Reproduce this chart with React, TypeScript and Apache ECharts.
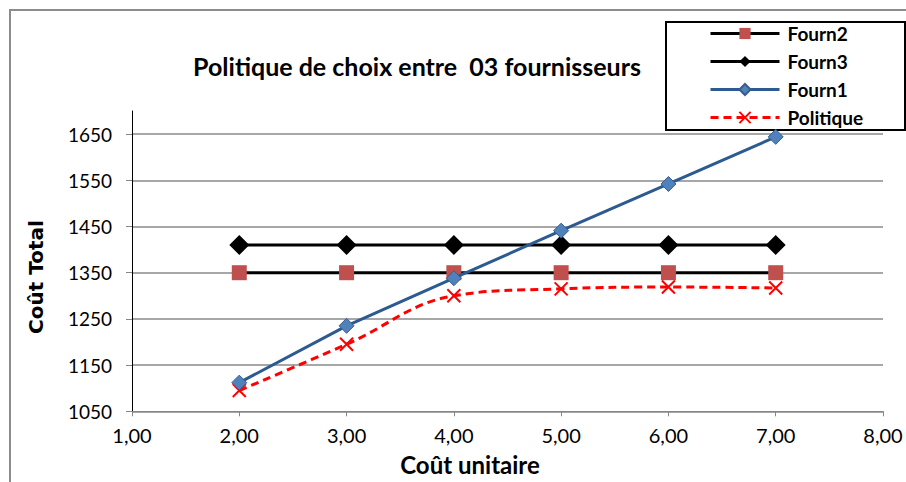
import React, { useEffect, useRef } from "react";
import * as echarts from "echarts";

const xValues = [2, 3, 4, 5, 6, 7];
const fourn2 = [1350, 1350, 1350, 1350, 1350, 1350];
const fourn3 = [1410, 1410, 1410, 1410, 1410, 1410];
const fourn1 = [1112, 1235, 1338, 1441, 1542, 1644];
const politique = [1095, 1195, 1300, 1315, 1319, 1317];
const yTicks = [1050, 1150, 1250, 1350, 1450, 1550, 1650];
const legendOrder = ["Fourn2", "Fourn3", "Fourn1", "Politique"];

const pairs = (ys: number[]) => xValues.map((x, i) => [x, ys[i]]);

export default function App() {
  const ref = useRef<HTMLDivElement>(null);
  useEffect(() => {
    if (!ref.current) return;
    const chart = echarts.init(ref.current, null, { renderer: "svg" });
    const font = "Lato, 'Open Sans', sans-serif";
    chart.setOption({
      animation: false,
      backgroundColor: "#ffffff",
      title: {
        text: "Politique de choix entre  03 fournisseurs",
        left: 412,
        top: 48,
        textAlign: "center",
        textStyle: { fontFamily: font, fontWeight: "bold", fontSize: 25, color: "#000" },
      },
      legend: {
        data: legendOrder,
        orient: "vertical",
        left: 709,
        top: 24,
        padding: 0,
        itemWidth: 69,
        itemHeight: 14,
        itemGap: 9,
        lineStyle: { width: 3 },
        textStyle: { fontFamily: font, fontWeight: "bold", fontSize: 19, color: "#000", padding: [0, 0, 0, 3] },
      },
      graphic: [
        {
          type: "rect",
          shape: { x: 10, y: 10, width: 910, height: 490 },
          style: { fill: "none", stroke: "#8C8C8C", lineWidth: 2 },
          silent: true,
        },
        {
          type: "rect",
          shape: { x: 666, y: 22, width: 239, height: 108 },
          style: { fill: "#ffffff", stroke: "#000000", lineWidth: 2 },
          silent: true,
          z: 0,
        },
        {
          type: "text",
          x: 470,
          y: 464,
          style: {
            text: "Coût unitaire",
            fontFamily: font,
            fontWeight: "bold",
            fontSize: 24,
            fill: "#000",
            textAlign: "center",
            textVerticalAlign: "middle",
          },
        },
        {
          type: "text",
          x: 36,
          y: 277,
          rotation: Math.PI / 2,
          style: {
            text: "Coût Total",
            fontFamily: "'DejaVu Sans', sans-serif",
            fontWeight: "bold",
            fontSize: 20,
            fill: "#000",
            textAlign: "center",
            textVerticalAlign: "middle",
          },
        },
      ],
      grid: { left: 132, right: 23, top: 111, bottom: 70.7, containLabel: false },
      xAxis: {
        type: "value",
        min: 1,
        max: 8,
        interval: 1,
        axisLine: { show: true, lineStyle: { color: "#868686", width: 1 } },
        axisTick: { show: true, inside: false, length: 5, lineStyle: { color: "#868686" } },
        splitLine: { show: false },
        axisLabel: {
          margin: 14,
          fontFamily: font,
          fontSize: 20,
          color: "#000",
          formatter: (v: number) => v.toFixed(2).replace(".", ","),
        },
      },
      yAxis: {
        type: "value",
        min: 1050,
        max: 1700,
        interval: 100,
        axisLine: { show: true, lineStyle: { color: "#000", width: 1 } },
        axisTick: { show: true, inside: false, length: 6, lineStyle: { color: "#868686" }, customValues: yTicks },
        axisLabel: {
          margin: 20,
          fontFamily: font,
          fontSize: 19,
          color: "#000",
          customValues: yTicks,
          formatter: (v: number) => String(v),
        },
        splitLine: { show: true, lineStyle: { color: "#8A8A8A", width: 1.6 } },
      },
      series: [
        {
          name: "Politique",
          type: "line",
          data: pairs(politique),
          smooth: 0.4,
          symbol: "path://M0,0L10,10M10,0L0,10",
          symbolSize: 13,
          lineStyle: { color: "#FF0000", width: 3, type: [8, 5] },
          itemStyle: { color: "rgba(0,0,0,0)", borderColor: "#FF0000", borderWidth: 2 },
          z: 2,
        },
        {
          name: "Fourn2",
          type: "line",
          data: pairs(fourn2),
          symbol: "rect",
          symbolSize: 15,
          lineStyle: { color: "#000000", width: 3 },
          itemStyle: { color: "#C0504D" },
          z: 3,
        },
        {
          name: "Fourn3",
          type: "line",
          data: pairs(fourn3),
          symbol: "diamond",
          symbolSize: 20,
          lineStyle: { color: "#000000", width: 3 },
          itemStyle: { color: "#000000" },
          z: 4,
        },
        {
          name: "Fourn1",
          type: "line",
          data: pairs(fourn1),
          symbol: "diamond",
          symbolSize: 15,
          lineStyle: { color: "#2C5A91", width: 3 },
          itemStyle: { color: "#4F81BD", borderColor: "#385D8A", borderWidth: 1 },
          z: 5,
        },
      ],
    });
    return () => chart.dispose();
  }, []);
  return (
    <div
      ref={ref}
      style={{ position: "absolute", left: 0, top: 0, width: 906, height: 482 }}
    />
  );
}
